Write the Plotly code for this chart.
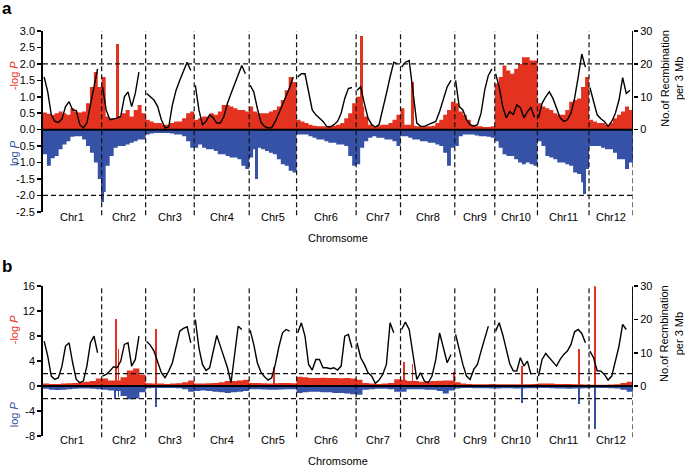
import plotly.graph_objects as go

# ---------------- data ----------------
chromosomes = ["Chr1", "Chr2", "Chr3", "Chr4", "Chr5", "Chr6",
               "Chr7", "Chr8", "Chr9", "Chr10", "Chr11", "Chr12"]
chr_len = [58.7, 44.0, 48.6, 55.0, 47.4, 59.6, 44.4, 54.3, 40.0, 42.7, 51.6, 44.0]

# panel a: -log P (red, up), log P (blue, down), recombination (black, right axis)
a_red = [
    [0.52, 0.48, 0.45, 0.5, 0.55, 0.5, 0.45, 0.65, 0.55, 0.52, 0.55, 0.8, 1.3, 1.75, 1.3],
    [1.6, 0.4, 0.35, 0.35, 0.4, 0.5, 0.6, 0.4, 0.6, 0.75, 0.5],
    [0.3, 0.25, 0.2, 0.2, 0.15, 0.15, 0.2, 0.25, 0.25, 0.35, 0.5, 0.55],
    [0.3, 0.35, 0.4, 0.4, 0.5, 0.45, 0.55, 0.75, 0.75, 0.7, 0.65, 0.6, 0.6, 0.55],
    [0.7, 0.55, 0.5, 0.5, 0.5, 0.55, 0.6, 0.7, 0.9, 1.2, 1.6, 1.45],
    [0.3, 0.25, 0.2, 0.15, 0.12, 0.1, 0.1, 0.1, 0.12, 0.12, 0.15, 0.2, 0.35, 0.5, 0.8],
    [1.0, 0.7, 0.4, 0.15, 0.1, 0.12, 0.15, 0.15, 0.2, 0.3, 0.45],
    [0.65, 0.15, 0.15, 0.12, 0.1, 0.08, 0.1, 0.1, 0.12, 0.2, 0.3, 0.45, 0.6, 0.85],
    [0.8, 0.55, 0.45, 0.3, 0.15, 0.1, 0.1, 0.08, 0.08, 0.1],
    [1.4, 1.6, 1.95, 1.8, 1.7, 1.85, 2.0, 2.2, 2.2, 2.1, 2.1],
    [0.8, 0.7, 0.65, 0.6, 0.5, 0.45, 0.45, 0.6, 0.85, 0.9, 0.95, 1.3, 1.6],
    [0.3, 0.25, 0.2, 0.2, 0.15, 0.2, 0.35, 0.45, 0.55, 0.7, 0.6],
]
a_blue = [
    [-0.75, -1.1, -0.87, -0.8, -0.6, -0.45, -0.35, -0.22, -0.2, -0.2, -0.3, -0.5, -0.7, -1.0, -1.5],
    [-1.9, -1.1, -0.8, -0.55, -0.5, -0.5, -0.45, -0.4, -0.35, -0.3, -0.3],
    [-0.15, -0.12, -0.1, -0.1, -0.1, -0.1, -0.12, -0.15, -0.15, -0.2, -0.35, -0.55],
    [-0.55, -0.45, -0.55, -0.6, -0.6, -0.65, -0.75, -0.75, -0.8, -0.85, -0.85, -0.9, -1.1, -1.2],
    [-0.85, -0.6, -0.55, -0.6, -0.65, -0.7, -0.75, -0.9, -1.05, -1.1, -1.25, -1.3],
    [-0.15, -0.15, -0.15, -0.2, -0.25, -0.3, -0.3, -0.35, -0.4, -0.4, -0.45, -0.45, -0.5, -0.8, -1.1],
    [-1.05, -0.55, -0.35, -0.25, -0.2, -0.25, -0.25, -0.3, -0.3, -0.35, -0.5],
    [-0.2, -0.2, -0.25, -0.3, -0.3, -0.35, -0.35, -0.4, -0.4, -0.45, -0.5, -0.7, -1.1, -0.55],
    [-0.5, -0.2, -0.15, -0.15, -0.15, -0.18, -0.2, -0.2, -0.22, -0.25],
    [-0.35, -0.55, -0.75, -0.8, -0.8, -0.9, -1.0, -1.05, -1.0, -1.05, -1.1],
    [-0.35, -0.5, -0.8, -0.85, -0.9, -1.0, -1.0, -1.05, -1.1, -1.3, -1.35, -1.6, -1.2],
    [-0.5, -0.5, -0.5, -0.55, -0.6, -0.6, -0.7, -0.9, -0.9, -1.2, -1.0],
]
# (chromosome number, position within chromosome, value)
a_red_peaks = [(2, 15.5, 2.6), (7, 5.7, 2.85), (8, 11.8, 1.45)]
a_blue_peaks = [(2, 1.3, -2.2), (5, 7.4, -1.5), (11, 47.3, -1.95)]
a_rec = [
    [16, 11.5, 4.5, 2.5, 2.2, 3.2, 7, 8.5, 6, 5.8, 1.5, 0.5, 2, 7.5, 13, 18.5],
    [13, 6, 3, 3.2, 3.5, 4, 10, 11.5, 7, 11, 17.5, None],
    [11, 10, 9, 7, 3, 0.5, 0.8, 7.5, 12, 15, 18, 20.5, 18],
    [13.5, 6, 1.5, 2.5, 4.5, 3.6, 2, 2, 4, 8, 11, 14, 17, 19.5, 17],
    [13.5, 11.5, 6.5, 2.2, 1, 0.5, 0.6, 2.5, 5, 7.5, 10.5, 12.8, 16],
    [16, 17, 17, 12, 6, 4.5, 3.5, 2.5, 1, 0.8, 1.5, 2.5, 5, 9.5, 12.5, 12.8],
    [12, 13, 8, 3.5, 1.5, 0.8, 1.5, 6, 11, 16, 20.5, 20],
    [19, 20.5, 21, 12, 2, 1, 1, 1.5, 2, 2.5, 5.5, 9.5, 13, 15],
    [15, 7, 6, 3, 1.5, 1, 1.5, 5, 12, 16.5, 18.5],
    [17, 13, 7, 3.6, 5.5, 4.6, 7.5, 6.7, 3.6, 5.5, 6.7, 3.8],
    [3.6, 8, 10, 11.5, 9.5, 6.5, 3.6, 2.5, 3, 5, 9.5, 16, 23, 19],
    [12.8, 8.5, 4.5, 3.3, 2.5, 1, 2.5, 5, 9, 15.8, 11, 12],
]

# panel b
b_red = [
    [0.4, 0.35, 0.35, 0.4, 0.45, 0.5, 0.6, 0.7, 0.8, 1.2],
    [1.2, 0.9, 0.9, 1.4, 2.5, 2.8, 1.8],
    [0.45, 0.4, 0.4, 0.35, 0.4, 0.45, 0.6, 0.9],
    [0.4, 0.4, 0.45, 0.5, 0.6, 0.8, 0.8, 0.9, 1.0],
    [0.5, 0.5, 0.45, 0.4, 0.45, 0.5, 0.5, 0.45],
    [1.5, 1.4, 1.3, 1.3, 1.35, 1.3, 1.3, 1.25, 1.3, 1.2],
    [1.0, 0.5, 0.4, 0.35, 0.4, 0.5, 1.1],
    [1.0, 0.8, 0.8, 0.7, 0.75, 0.8, 0.85, 0.9, 0.9],
    [0.6, 0.4, 0.35, 0.3, 0.3, 0.3, 0.35],
    [0.3, 0.3, 0.3, 0.3, 0.3, 0.3, 0.35],
    [0.4, 0.4, 0.4, 0.35, 0.35, 0.35, 0.3, 0.3, 0.25],
    [0.2, 0.2, 0.2, 0.25, 0.3, 0.5, 0.7],
]
b_blue = [
    [-0.45, -0.6, -0.65, -0.6, -0.5, -0.45, -0.4, -0.4, -0.45, -0.5],
    [-0.6, -0.7, -0.8, -1.6, -2.1, -2.0, -1.0],
    [-0.35, -0.3, -0.3, -0.3, -0.3, -0.35, -0.5, -0.9],
    [-0.8, -0.7, -0.8, -0.9, -1.0, -1.1, -1.0, -0.9, -0.8],
    [-0.5, -0.5, -0.55, -0.6, -0.6, -0.55, -0.5, -0.5],
    [-1.1, -1.0, -0.9, -0.9, -1.0, -1.0, -1.1, -1.1, -1.2, -1.3],
    [-1.4, -0.6, -0.5, -0.45, -0.45, -0.5, -0.9],
    [-0.9, -0.5, -0.5, -0.5, -0.6, -0.6, -0.8, -1.2, -0.7],
    [-0.4, -0.3, -0.3, -0.35, -0.35, -0.35, -0.4],
    [-0.4, -0.35, -0.35, -0.4, -0.4, -0.35, -0.35],
    [-0.3, -0.3, -0.35, -0.4, -0.4, -0.45, -0.4, -0.4, -0.35],
    [-0.3, -0.3, -0.3, -0.35, -0.4, -0.6, -0.9],
]
b_red_peaks = [(2, 14.1, 10.7), (2, 16.8, 6.0), (3, 10.6, 9.2), (5, 25.0, 3.0),
               (8, 3.6, 3.8), (8, 12.0, 3.5), (8, 53.3, 2.2), (10, 27.3, 3.2),
               (11, 41.6, 6.0), (12, 5.7, 16.0)]
b_blue_peaks = [(2, 13.6, -2.0), (2, 16.8, -1.8), (3, 10.6, -3.3), (10, 27.3, -2.7),
                (11, 41.6, -2.9), (12, 5.7, -6.8)]
b_rec = [
    [13.5, 9, 3, 2, 2.5, 6, 12, 13, 7, 2, 1, 1.5, 6, 13, 15, 10],
    [3, 3.5, 4.5, 5.8, 5.5, 7.5, 12.5, 13, 6, 8, 15, None],
    [13.4, 12.3, 10.5, 7.5, 4, 2.5, 4.5, 7, 12, 16.5, 17.3, 17.8, 13],
    [20, 11.5, 6.5, 4.7, 5.5, 10.8, 15.2, 12, 8.5, 5.5, 1, 10, 18, 17, None],
    [16.8, 12.5, 7, 4.2, 2.8, 1.8, 2.5, 6.5, 11.8, 16, 17, 16.5, None],
    [16, 19, 15, 6.5, 4.8, 8, 8, 5.5, 5.5, 5.2, 5.5, 4.8, 6, 15, 15.5, 11.5],
    [13, 8.5, 6.5, 4, 3, 0.8, 1.8, 3.5, 6.5, 19, 16, None],
    [17, 19.2, 17, 9, 2, 4, 1.5, 1, 3, 8, 16, 11.5, 7, 9.5],
    [15.5, 10.5, 6.5, 3, 2, 5, 6.5, 10.5, 14.4, 18, None],
    [16.5, 19, 15.5, 11, 6.7, 4.6, 4.5, 8.5, 6, 7.5, 3.5, None],
    [3, 8, 9.8, 8.5, 7, 6, 8, 9.5, 10.5, 12.5, 16.3, 17, 15.8, 13],
    [10.5, 8.5, 4.6, 4.5, 3.5, 1.8, 3, 7.5, 12, 18.5, 17, None],
]

a_left_ticks = [3.0, 2.5, 2.0, 1.5, 1.0, 0.5, 0.0, -0.5, -1.0, -1.5, -2.0, -2.5]
b_left_ticks = [16, 12, 8, 4, 0, -4, -8]
rec_ticks = [0, 10, 20, 30]

# ---------------- helpers ----------------
RED = "#E3321F"
BLUE = "#3652A6"
FONT = "Liberation Sans, Arial, Helvetica, sans-serif"
W, H = 685, 472
ML, MR, MT, MB = 43, 51.7, 31, 36.3
PW, PH = W - ML - MR, H - MT - MB


def px2x(px):
    return (px - ML) / PW


def py2y(py):
    return (H - MB - py) / PH


chr_start = []
acc = 0.0
for L in chr_len:
    chr_start.append(acc)
    acc += L
total = acc


def stepped(vals_by_chr):
    xs, ys = [], []
    for c, vals in enumerate(vals_by_chr):
        w = chr_len[c] / len(vals)
        for i, v in enumerate(vals):
            xs.append(chr_start[c] + i * w)
            ys.append(v)
    xs.append(total)
    ys.append(vals_by_chr[-1][-1])
    return xs, ys


def peaks(lst, width):
    xs = [chr_start[c - 1] + p for c, p, v in lst]
    return xs, [width] * len(lst), [v for c, p, v in lst]


def line(vals_by_chr):
    xs, ys = [], []
    for c, vals in enumerate(vals_by_chr):
        n = len(vals)
        for i, v in enumerate(vals):
            xs.append(chr_start[c] + chr_len[c] * (0.02 + 0.91 * i / (n - 1)))
            ys.append(v)
        xs.append(None)
        ys.append(None)
    return xs, ys


fig = go.Figure()


def add_panel(red, blue, redp, bluep, rec, xa, ya, ya2, pw):
    for data, col in ((red, RED), (blue, BLUE)):
        x, y = stepped(data)
        fig.add_trace(go.Scatter(x=x, y=y, mode="lines", line=dict(color=col, width=0, shape="hv"),
                                 fill="tozeroy", fillcolor=col, xaxis=xa, yaxis=ya,
                                 showlegend=False, hoverinfo="skip"))
    for data, col in ((redp, RED), (bluep, BLUE)):
        x, w, y = peaks(data, pw)
        fig.add_trace(go.Bar(x=x, y=y, width=w, marker=dict(color=col, line=dict(width=0)),
                             xaxis=xa, yaxis=ya, showlegend=False, hoverinfo="skip"))
    x, y = line(rec)
    fig.add_trace(go.Scatter(x=x, y=y, mode="lines", line=dict(color="black", width=1.4),
                             xaxis=xa, yaxis=ya2, showlegend=False, connectgaps=False,
                             hoverinfo="skip"))


add_panel(a_red, a_blue, a_red_peaks, a_blue_peaks, a_rec, "x", "y", "y2", 3.0)
add_panel(b_red, b_blue, b_red_peaks, b_blue_peaks, b_rec, "x2", "y3", "y4", 1.7)

a_dom = [py2y(211.7), 1.0]
b_dom = [0.0, py2y(286)]

tickfont = dict(family=FONT, size=11, color="black")
common_y = dict(showgrid=False, zeroline=False, ticks="outside", ticklen=4, tickwidth=1.5,
                tickcolor="black", tickfont=tickfont, fixedrange=True, automargin=False)
common_x = dict(domain=[0, 1], range=[0, total], visible=False, automargin=False,
                fixedrange=True)

fig.update_layout(
    template="none",
    width=W, height=H, margin=dict(l=ML, r=MR, t=MT, b=MB, pad=0),
    paper_bgcolor="white", plot_bgcolor="rgba(0,0,0,0)", barmode="overlay", bargap=0,
    font=dict(family=FONT, size=11, color="black"), showlegend=False,
    xaxis=dict(anchor="y", **common_x),
    xaxis2=dict(anchor="y3", **common_x),
    yaxis=dict(domain=a_dom, range=[-2.5, 3.0], tickvals=a_left_ticks,
               ticktext=["%.1f" % v for v in a_left_ticks], showline=True, linewidth=1.8,
               linecolor="black", anchor="x", **common_y),
    yaxis2=dict(overlaying="y", side="right", range=[-25, 30], tickvals=rec_ticks,
                ticktext=[str(v) for v in rec_ticks], showline=False, anchor="x", **common_y),
    yaxis3=dict(domain=b_dom, range=[-8, 16], tickvals=b_left_ticks,
                ticktext=[str(v) for v in b_left_ticks], showline=True, linewidth=1.8,
                linecolor="black", anchor="x2", **common_y),
    yaxis4=dict(overlaying="y3", side="right", range=[-15, 30], tickvals=rec_ticks,
                ticktext=[str(v) for v in rec_ticks], showline=False, anchor="x2", **common_y),
)

shapes = []
dash = dict(color="#111", width=1.2, dash="5px,3px")
panels = [("x", "y", "y2", 2, a_dom, 215), ("x2", "y3", "y4", 2, b_dom, 437)]
for xa, ya, ya2, thr, dom, ybot in panels:
    for yv in (thr, -thr):
        shapes.append(dict(type="line", xref=xa, yref=ya, x0=0, x1=total, y0=yv, y1=yv,
                           line=dash, layer="above"))
    for c in list(range(1, len(chr_len))):
        shapes.append(dict(type="line", xref=xa, yref="paper", x0=chr_start[c], x1=chr_start[c],
                           y0=py2y(ybot), y1=dom[1], line=dash, layer="above"))
    shapes.append(dict(type="line", xref=xa, yref="paper", x0=total, x1=total,
                       y0=py2y(ybot), y1=dom[1], line=dash, layer="above"))
    shapes.append(dict(type="line", xref=xa, yref=ya, x0=0, x1=total, y0=0, y1=0,
                       line=dict(color="black", width=2), layer="above"))
    shapes.append(dict(type="line", xref=xa, yref=ya2, x0=total, x1=total, y0=0, y1=30,
                       line=dict(color="black", width=1.8), layer="above"))
fig.update_layout(shapes=shapes)

ann = []
for xa, ylab, ytitle in (("x", 217, 238), ("x2", 440, 461)):
    for c, name in enumerate(chromosomes):
        ann.append(dict(x=chr_start[c] + chr_len[c] / 2, y=py2y(ylab), xref=xa, yref="paper",
                        text=name, showarrow=False, xanchor="center", yanchor="middle",
                        font=dict(family=FONT, size=11)))
    ann.append(dict(x=total / 2, y=py2y(ytitle), xref=xa, yref="paper", text="Chromsome",
                    showarrow=False, xanchor="center", yanchor="middle",
                    font=dict(family=FONT, size=11)))

for ymid_r, ymid_b, yright in ((76, 153, 78), (330, 414, 333)):
    ann.append(dict(x=px2x(14), y=py2y(ymid_r), xref="paper", yref="paper", text="-log <i>P</i>",
                    textangle=-90, showarrow=False, xanchor="center", yanchor="middle",
                    font=dict(family=FONT, size=11, color=RED)))
    ann.append(dict(x=px2x(14), y=py2y(ymid_b), xref="paper", yref="paper", text="log <i>P</i>",
                    textangle=-90, showarrow=False, xanchor="center", yanchor="middle",
                    font=dict(family=FONT, size=11, color=BLUE)))
    ann.append(dict(x=px2x(672), y=py2y(yright), xref="paper", yref="paper",
                    text="No.of Recmbination<br>per 3 Mb", textangle=-90, showarrow=False,
                    xanchor="center", yanchor="middle", font=dict(family=FONT, size=11)))

ann.append(dict(x=px2x(0), y=py2y(9), xref="paper", yref="paper", text="<b>a</b>", showarrow=False,
                xanchor="left", yanchor="middle", font=dict(family=FONT, size=17)))
ann.append(dict(x=px2x(0), y=py2y(266), xref="paper", yref="paper", text="<b>b</b>",
                showarrow=False, xanchor="left", yanchor="middle", font=dict(family=FONT, size=17)))
fig.update_layout(annotations=ann)

fig.write_html("out.html", config={"displayModeBar": False, "staticPlot": True},
               post_script="document.body.style.margin='0';")
